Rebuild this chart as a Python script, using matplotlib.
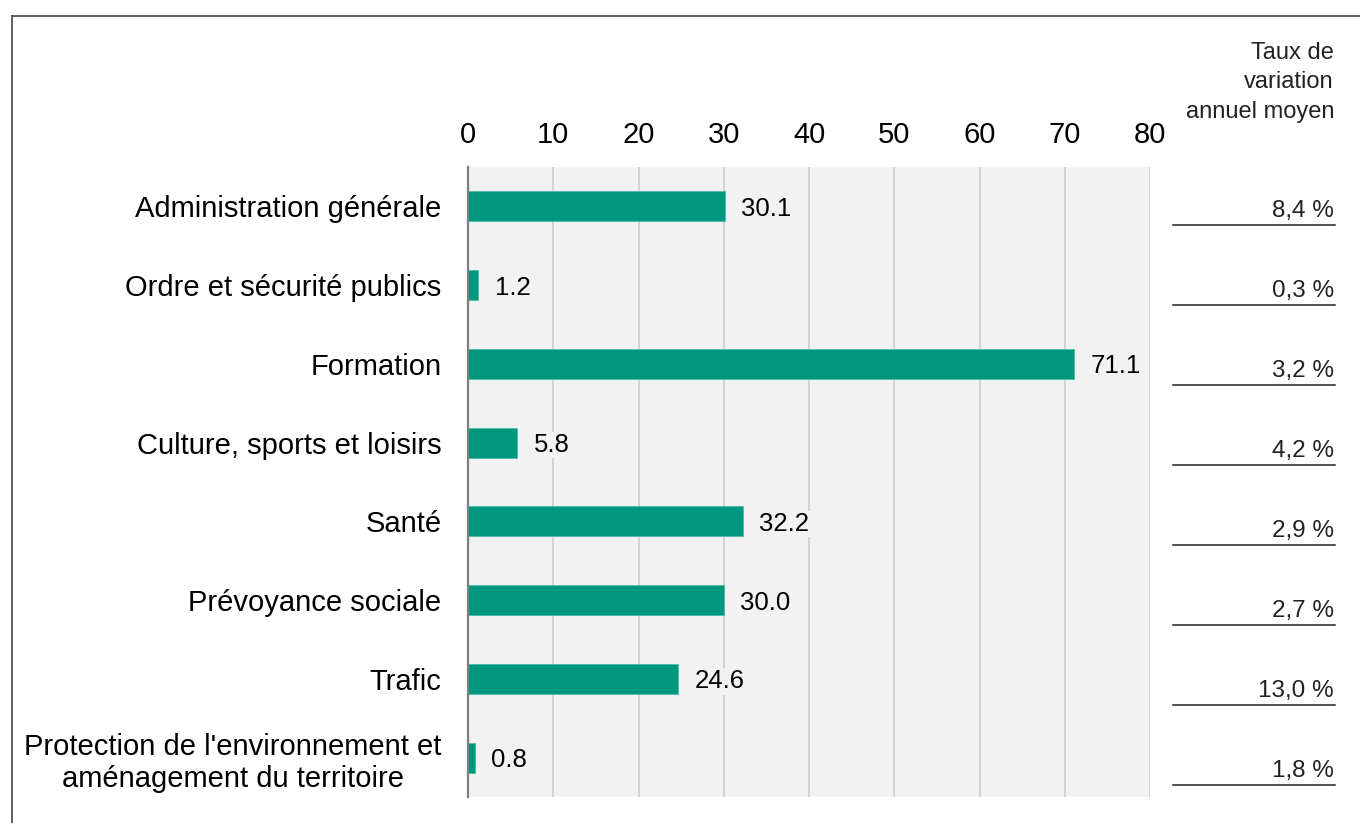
import matplotlib
matplotlib.use("Agg")
import matplotlib.pyplot as plt
import matplotlib.transforms as mtransforms
from matplotlib.lines import Line2D
import numpy as np

plt.rcParams["font.family"] = ["Liberation Sans", "DejaVu Sans"]

# ---------------------------------------------------------------------------
# Data
# ---------------------------------------------------------------------------
categories = [
    "Administration générale",
    "Ordre et sécurité publics",
    "Formation",
    "Culture, sports et loisirs",
    "Santé",
    "Prévoyance sociale",
    "Trafic",
    "Protection de l'environnement et\naménagement du territoire",
]
values = [30.1, 1.2, 71.1, 5.8, 32.2, 30.0, 24.6, 0.8]
growth = ["8,4 %", "0,3 %", "3,2 %", "4,2 %", "2,9 %", "2,7 %", "13,0 %", "1,8 %"]
x_ticks = [0, 10, 20, 30, 40, 50, 60, 70, 80]
header = ["Taux de", "variation", "annuel moyen"]

BAR = "#00977f"
BG = "#f2f2f2"
GRID = "#d2d2d2"

W, H = 1360, 823
fig = plt.figure(figsize=(W / 100, H / 100), dpi=100)
ax = fig.add_axes([468 / W, 26 / H, 682 / W, 630 / H])
ax.set_facecolor(BG)

y = np.arange(len(categories))
bars = ax.barh(y, values, height=0.38, color=BAR, edgecolor="#4dbba8",
               linewidth=0.6, zorder=3)
# value labels next to the bar ends
for yi, v in zip(y, values):
    ax.annotate(f"{v:.1f}", (v, yi), xytext=(12, 0), textcoords="offset points",
                ha="left", va="center_baseline", fontsize=18.5, color="black",
                zorder=4, bbox=dict(facecolor=BG, edgecolor="none", pad=1))

ax.set_xlim(0, 80)
ax.set_ylim(len(categories) - 0.5, -0.5)
ax.set_xticks(x_ticks)
ax.set_xticklabels([str(t) for t in x_ticks])
ax.xaxis.tick_top()
ax.tick_params(axis="x", length=0, pad=13, labelsize=21)
ax.set_yticks(y)
ax.set_yticklabels(categories, multialignment="center")
ax.tick_params(axis="y", length=0, pad=19, labelsize=21)
ax.grid(axis="x", color=GRID, linewidth=1.4, zorder=0)
ax.set_axisbelow(True)
for side in ("top", "right", "bottom"):
    ax.spines[side].set_visible(False)
ax.spines["left"].set_color("#7f7f7f")
ax.spines["left"].set_linewidth(1.6)
ax.spines["left"].set_zorder(5)

# right column: average annual growth rate
trans = mtransforms.blended_transform_factory(fig.transFigure, ax.transData)
for i, g in enumerate(growth):
    yl = i * 1.016 + 0.24
    fig.add_artist(Line2D([1173 / W, 1335 / W], [yl, yl], transform=trans,
                          color="#222222", linewidth=1.1))
    fig.text(1334 / W, yl - 0.1, g, transform=trans, ha="right",
             va="baseline", fontsize=17.5, color="#222222")

for k, line in enumerate(header):
    fig.text(1334 / W, 1 - (53 + k * 29.5) / H, line, ha="right", va="center",
             fontsize=17, color="#222222")

# frame (top and left edges visible)
fig.add_artist(Line2D([12 / W, 1.0], [1 - 16 / H, 1 - 16 / H],
                      transform=fig.transFigure, color="#444444", linewidth=1.2))
fig.add_artist(Line2D([12 / W, 12 / W], [0.0, 1 - 16 / H],
                      transform=fig.transFigure, color="#444444", linewidth=1.2))

fig.savefig("out.png", dpi=100)
